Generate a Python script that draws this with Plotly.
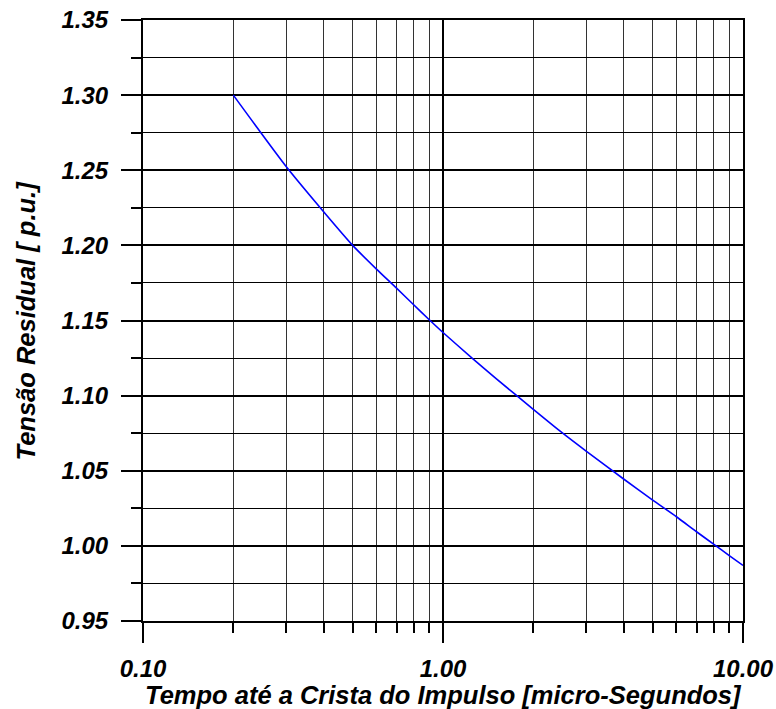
import plotly.graph_objects as go

# Data
tempo_us = [0.2, 0.3, 0.4, 0.5, 0.6, 0.7, 0.8, 0.9, 1.0, 1.25, 1.5, 2.0, 2.5, 3.0, 4.0, 5.0, 6.0, 7.0, 8.0, 9.0, 10.0]
tensao_pu = [1.300, 1.2525, 1.2224, 1.200, 1.1842, 1.1715, 1.1603, 1.1505, 1.142, 1.1250, 1.1115, 1.0909, 1.0752,
             1.0631, 1.0445, 1.0305, 1.0194, 1.0094, 1.0010, 0.9935, 0.9870]

x_major = [0.1, 1.0, 10.0]
x_major_text = ["0.10", "1.00", "10.00"]
x_minor = [0.2, 0.3, 0.4, 0.5, 0.6, 0.7, 0.8, 0.9, 2, 3, 4, 5, 6, 7, 8, 9]
y_major = [0.95, 1.00, 1.05, 1.10, 1.15, 1.20, 1.25, 1.30, 1.35]
y_major_text = ["0.95", "1.00", "1.05", "1.10", "1.15", "1.20", "1.25", "1.30", "1.35"]
y_minor = [0.975, 1.025, 1.075, 1.125, 1.175, 1.225, 1.275, 1.325]

x_title = "Tempo até a Crista do Impulso [micro-Segundos]"
y_title = "Tensão Residual [ p.u.]"

FONT = "Liberation Sans, Arial, sans-serif"
TICKFONT = dict(family=FONT, size=24, weight="bold", style="italic", color="black")
TITLEFONT = dict(family=FONT, size=25.5, weight="bold", style="italic", color="black")

fig = go.Figure()
fig.add_trace(go.Scatter(x=tempo_us, y=tensao_pu, mode="lines",
                         line=dict(color="#0000FF", width=1.6, shape="spline", smoothing=0.6),
                         showlegend=False, hoverinfo="skip"))

fig.update_layout(
    width=776, height=709,
    margin=dict(l=143, r=33, t=20, b=88),
    paper_bgcolor="white", plot_bgcolor="white",
    font=dict(family=FONT, color="black"),
)

fig.update_xaxes(
    type="log", range=[-1, 1], automargin=False,
    tickmode="array", tickvals=x_major, ticktext=x_major_text,
    ticks="outside", ticklen=20, tickwidth=2, tickcolor="black",
    showgrid=True, gridcolor="black", gridwidth=2,
    showline=True, linecolor="black", linewidth=2, mirror=True,
    zeroline=False,
    tickfont=TICKFONT, ticklabeloverflow="allow",
    ticklabelstandoff=5,
    minor=dict(tickmode="array", tickvals=x_minor, ticks="outside", ticklen=10, tickwidth=2,
               tickcolor="black", showgrid=True, gridcolor="#333333", gridwidth=1),
)

fig.update_yaxes(
    range=[0.95, 1.35], automargin=False,
    tickmode="array", tickvals=y_major, ticktext=y_major_text,
    ticks="outside", ticklen=20, tickwidth=2, tickcolor="black",
    showgrid=True, gridcolor="black", gridwidth=2,
    showline=True, linecolor="black", linewidth=2, mirror=True,
    zeroline=False,
    tickfont=TICKFONT, ticklabeloverflow="allow",
    ticklabelstandoff=8,
    minor=dict(tickmode="array", tickvals=y_minor, ticks="outside", ticklen=10, tickwidth=1.5,
               tickcolor="black", showgrid=True, gridcolor="black", gridwidth=1),
)

fig.add_annotation(text=x_title, xref="paper", yref="paper", x=0.5, y=-(695 - 621) / 601,
                   xanchor="center", yanchor="middle", showarrow=False, font=TITLEFONT)
fig.add_annotation(text=y_title, xref="paper", yref="paper", x=(25 - 143) / 600, y=0.5,
                   xanchor="center", yanchor="middle", textangle=-90, showarrow=False, font=TITLEFONT)

fig.write_html("out.html", config={"displayModeBar": False},
               post_script="document.body.style.margin='0px';")
